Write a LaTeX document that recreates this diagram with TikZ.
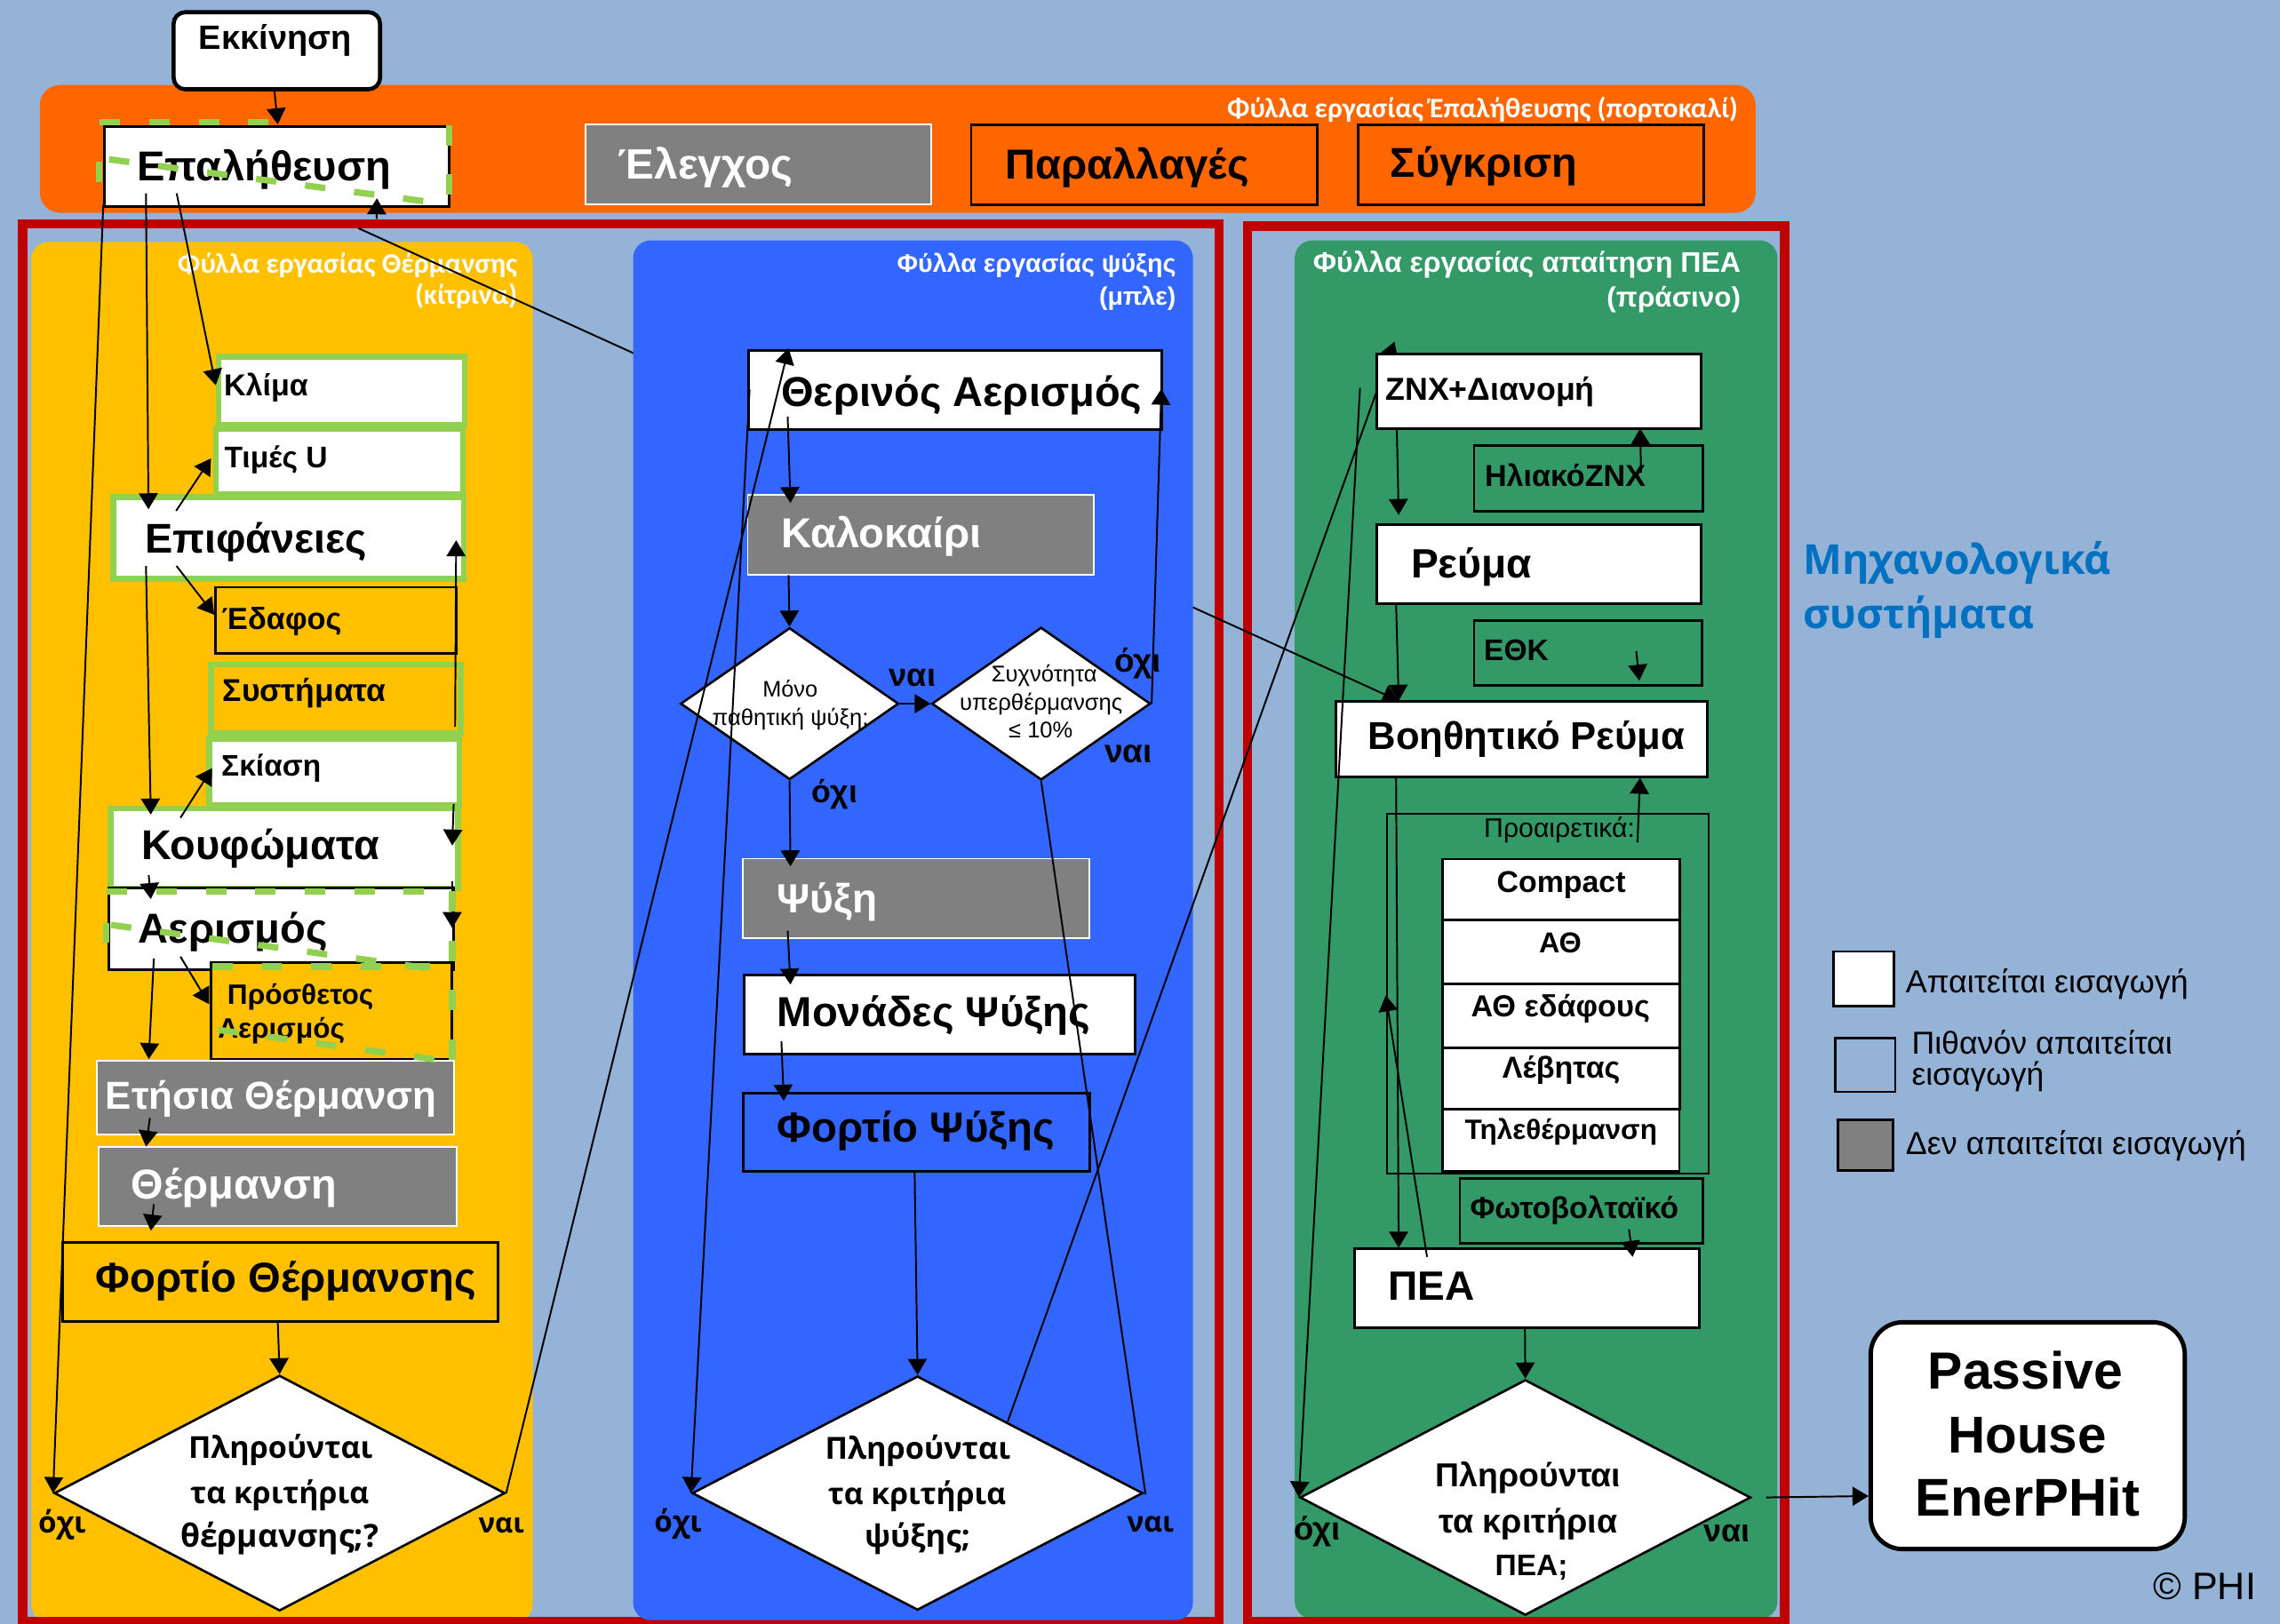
\documentclass[tikz,border=0pt]{standalone}
\usepackage{graphicx}
\usepackage{fontspec}
\setmainfont{Liberation Sans}
\newfontfamily\carl{Carlito}
\newfontfamily\dvs{Open Sans}
\newfontfamily\osans{Open Sans}
\usetikzlibrary{shapes.geometric,arrows.meta,calc}
\definecolor{bgc}{HTML}{95B3D7}
\definecolor{orc}{HTML}{FF6600}
\definecolor{yec}{HTML}{FFC000}
\definecolor{blc}{HTML}{3366FF}
\definecolor{grc}{HTML}{339966}
\definecolor{rdc}{HTML}{C00000}
\definecolor{gyc}{HTML}{808080}
\definecolor{lgc}{HTML}{92D050}
\definecolor{tbc}{HTML}{0070C0}
\newcommand\rt[2]{\resizebox{#1pt}{!}{#2}}
\newcommand\mybox[6]{\node[#6, anchor=north west, inner sep=0pt, minimum width={(#4-#2)*0.5pt}, minimum height={(#5-#3)*0.5pt}] (#1) at (#2,#3) {};}
\tikzset{
 cn/.style={line width=0.6pt, -{Triangle[length=5.5pt,width=6.5pt]}},
 pl/.style={line width=0.6pt},
 wb/.style={draw=black, fill=white, line width=0.9pt},
 gyb/.style={draw=white, fill=gyc, line width=0.6pt},
 yb/.style={draw=black, fill=yec, line width=0.9pt},
 ob/.style={draw=black, fill=orc, line width=0.9pt},
 grb/.style={draw=black, fill=grc, line width=0.8pt},
 blb/.style={draw=black, fill=blc, line width=0.9pt},
 gw/.style={draw=lgc, fill=white, line width=2pt},
 gy/.style={draw=lgc, fill=yec, line width=2pt},
 dsh/.style={draw=lgc, line width=2.2pt, dash pattern=on 7pt off 10pt},
 redfr/.style={draw=rdc, line width=3.2pt},
 lb/.style={inner sep=0pt, anchor=base west},
 lbc/.style={inner sep=0pt, anchor=base},
 lbe/.style={inner sep=0pt, anchor=base east},
 dia/.style={diamond, draw=black, fill=white, line width=0.8pt, inner sep=0pt},
}
\begin{document}
\begin{tikzpicture}[x=0.5pt,y=-0.5pt]
\useasboundingbox (0,0) rectangle (1568,1117);
\fill[bgc] (0,0) rectangle (1568,1117);
% panels
\mybox{orng}{27}{58}{1207}{146}{fill=orc, rounded corners=7pt}
\mybox{ycol}{21}{166}{366}{1115}{fill=yec, rounded corners=6pt}
\mybox{gcol}{890}{165}{1222}{1113}{fill=grc, rounded corners=6pt}
\node[lbe, text=white] (hor) at (1195.6,81) {\rt{175.6}{\carl\bfseries Φύλλα εργασίας Έπαλήθευσης (πορτοκαλί)}};
\node[lbe, text=white] (hy1) at (356.2,187.7) {\rt{116.8}{\carl\bfseries Φύλλα εργασίας Θέρμανσης}};
\node[lbe, text=white] (hy2) at (356.2,209.5) {\rt{35.2}{\carl\bfseries (κίτρινα)}};
\node[lbe, text=white] (hg1) at (1197.5,187) {\rt{147}{\bfseries Φύλλα εργασίας απαίτηση ΠΕΑ}};
\node[lbe, text=white] (hg2) at (1197.5,211) {\rt{46}{\bfseries (πράσινο)}};
% red frames
\draw[redfr] (15.5,154) rectangle (838.3,1115.5);
\draw[redfr] (858,155.4) rectangle (1227.3,1115.5);
% long line under blue panel
\coordinate (g5s) at (246.5,157);
\coordinate (g5e) at (961.9,482);
\draw[cn] (g5s) -- (g5e);
\mybox{bcol}{435}{165}{820}{1114}{fill=blc, rounded corners=6pt}
\node[lbe, text=white] (hb1) at (809.1,187) {\rt{95.9}{\bfseries Φύλλα εργασίας ψύξης}};
\node[lbe, text=white] (hb2) at (809.1,210) {\rt{26.4}{\bfseries (μπλε)}};
% line hidden under ZNX box
\coordinate (b11s) at (693.1,977.6);
\coordinate (b11e) at (959,235);
\draw[cn] (b11s) -- (b11e);
% ---------- boxes ----------
\mybox{start}{118}{7}{260}{60}{draw=black, fill=white, line width=1.4pt, rounded corners=4pt}
\mybox{ver}{71}{86}{308}{141}{wb}
\mybox{ctl}{402}{85}{640}{140}{gyb}
\mybox{var}{667}{85}{905}{140}{ob}
\mybox{cmp}{933}{85}{1171}{140}{ob}
% yellow column
\mybox{clim}{148.4}{243.3}{317.5}{290.2}{gw}
\mybox{uval}{146.5}{293}{316.5}{338}{gw}
\mybox{surf}{76}{340}{317}{396}{gw}
\mybox{grnd}{147}{403}{313}{448.5}{yb}
\mybox{syst}{143}{455}{315}{502}{gy}
\mybox{shad}{142}{506}{314}{552}{gw}
\mybox{wind}{74}{554}{313}{609}{gw}
\mybox{vent}{74}{610}{311}{666}{wb}
\mybox{addv}{144}{661}{309.6}{727.5}{yb}
\mybox{anh}{66}{729}{311.5}{780}{gyb}
\mybox{heat}{67}{788}{313.7}{842.7}{gyb}
\mybox{hld}{42.3}{853.6}{341.5}{908}{yb}
\node[dia, minimum width=155pt, minimum height=81pt] (dy) at (192.3,1027) {};
% blue column
\mybox{sven}{514}{240}{798}{294.6}{wb}
\mybox{summ}{513.6}{339.6}{751.8}{394.8}{gyb}
\node[dia, minimum width=75pt, minimum height=52.2pt] (d1) at (543,484) {};
\node[dia, minimum width=75.2pt, minimum height=52.5pt] (d2) at (716,484) {};
\mybox{cool}{510.4}{590}{748.8}{644.7}{gyb}
\mybox{cunit}{511}{669.6}{780}{724.3}{wb}
\mybox{cld}{510.4}{751}{748.8}{805}{blb}
\node[dia, minimum width=155pt, minimum height=80.5pt] (d3) at (631,1027) {};
% green column
\mybox{dhw}{946}{242.7}{1169}{294.2}{wb}
\mybox{sol}{1013}{305.6}{1170.4}{351}{grb}
\mybox{elec}{946}{360}{1169}{414.5}{wb}
\mybox{ethk}{1013}{426}{1169.7}{470.8}{grb}
\mybox{aux}{917.6}{481.7}{1173.5}{533.6}{wb}
\mybox{opt}{953}{559.2}{1174.2}{806.3}{draw=black, line width=0.7pt}
\mybox{s1}{991}{590}{1154.5}{632}{wb}
\mybox{s2}{991}{632}{1154.5}{676}{wb}
\mybox{s3}{991}{676}{1154.5}{720}{wb}
\mybox{s4}{991}{720}{1154.5}{762}{wb}
\mybox{s5}{991}{762}{1154}{805}{wb}
\mybox{pv}{1003.2}{809.6}{1170.4}{854.4}{grb}
\mybox{pea}{930.7}{858.2}{1168}{912.2}{wb}
\node[dia, minimum width=155pt, minimum height=81pt] (dg) at (1049,1030) {};
\mybox{ph}{1285}{908}{1501}{1064}{draw=black, fill=white, line width=1.5pt, rounded corners=11pt}
\coordinate (phin) at (1285,1029);
% legend
\mybox{lg1}{1260.3}{653.7}{1301.5}{691.2}{draw=black, fill=white, line width=0.8pt}
\mybox{lg2}{1261.4}{713.4}{1302.6}{750.3}{draw=black, fill=bgc, line width=0.8pt}
\mybox{lg3}{1263}{769.6}{1301}{804.2}{draw=black, fill=gyc, line width=0.8pt}
% ---------- texts ----------
\node[lb] (tstart) at (136.4,34) {\rt{52.5}{\bfseries Εκκίνηση}};
\node[lb] (tver) at (93.8,124.4) {\rt{87.3}{\bfseries Επαλήθευση}};
\node[lb, text=white] (tctl) at (424.8,123) {\rt{60}{\bfseries Έλεγχος}};
\node[lb] (tvar) at (690.9,123) {\rt{83.8}{\bfseries Παραλλαγές}};
\node[lb] (tcmp) at (955.9,122) {\rt{64.3}{\bfseries Σύγκριση}};
\node[lb] (tclim) at (153.6,272.4) {\rt{29}{\bfseries Κλίμα}};
\node[lb] (tuval) at (153.9,321.9) {\rt{35.5}{\bfseries Τιμές U}};
\node[lb] (tsurf) at (99.3,380.2) {\rt{76.4}{\bfseries Επιφάνειες}};
\node[lb] (tgrnd) at (152.2,432.9) {\rt{41.2}{\bfseries Έδαφος}};
\node[lb] (tsyst) at (152.8,482.6) {\rt{56.2}{\bfseries Συστήματα}};
\node[lb] (tshad) at (151.9,533.9) {\rt{34.2}{\bfseries Σκίαση}};
\node[lb] (twind) at (96.8,591.1) {\rt{81.8}{\bfseries Κουφώματα}};
\node[lb] (tvent) at (94.9,648.4) {\rt{65}{\bfseries Αερισμός}};
\node[lb] (taddv1) at (156,690.7) {\rt{50.2}{\bfseries Πρόσθετος}};
\node[lb] (taddv2) at (149.5,713.9) {\rt{43.6}{\bfseries Αερισμός}};
\node[lb, text=white] (tanh) at (72.3,762.7) {\rt{113.9}{\bfseries Ετήσια Θέρμανση}};
\node[lb, text=white] (theat) at (90,824.5) {\rt{70.6}{\bfseries Θέρμανση}};
\node[lb] (thld) at (65.5,888.9) {\rt{130.9}{\bfseries Φορτίο Θέρμανσης}};
\node[lbc] (tdy1) at (193,1003.3) {\rt{63.4}{\dvs\bfseries Πληρούνται}};
\node[lbc] (tdy2) at (192.3,1034.1) {\rt{61.4}{\dvs\bfseries τα κριτήρια}};
\node[lbc] (tdy3) at (192.3,1064.4) {\rt{68.2}{\dvs\bfseries θέρμανσης;?}};
\node[lb] (tdyn) at (25.9,1054.3) {\rt{16.4}{\dvs\bfseries όχι}};
\node[lb] (tdyy) at (328.7,1054.3) {\rt{15.7}{\dvs\bfseries ναι}};
\node[lb] (tsven) at (536.8,279.6) {\rt{124.1}{\bfseries Θερινός Αερισμός}};
\node[lb, text=white] (tsumm) at (536.8,376.5) {\rt{68.9}{\bfseries Καλοκαίρι}};
\node[lbc] (td1a) at (543.4,479.3) {\rt{18.9}{Μόνο}};
\node[lbc] (td1b) at (543.6,499.2) {\rt{53.7}{παθητική ψύξη;}};
\node[lbc] (td2a) at (718.2,469.2) {\rt{36.3}{Συχνότητα}};
\node[lbc] (td2b) at (716,488.3) {\rt{56}{υπερθέρμανσης}};
\node[lbc] (td2c) at (715.7,507.4) {\rt{22}{≤ 10\%}};
\node[lb] (td1y) at (611,472) {\rt{16.1}{\bfseries ναι}};
\node[lb] (td2n) at (766,462.4) {\rt{16.1}{\bfseries όχι}};
\node[lb] (td2y) at (759.2,524.3) {\rt{16.4}{\bfseries ναι}};
\node[lb] (td1n) at (558.1,552.4) {\rt{15.6}{\bfseries όχι}};
\node[lb, text=white] (tcool) at (534.1,628) {\rt{34.4}{\bfseries Ψύξη}};
\node[lb] (tcunit) at (534.1,705.9) {\rt{107.7}{\bfseries Μονάδες Ψύξης}};
\node[lb] (tcld) at (534.1,785.5) {\rt{95.5}{\bfseries Φορτίο Ψύξης}};
\node[lbc] (td31) at (631.2,1003.6) {\rt{63.8}{\dvs\bfseries Πληρούνται}};
\node[lbc] (td32) at (630.6,1034.7) {\rt{61.2}{\dvs\bfseries τα κριτήρια}};
\node[lbc] (td33) at (630.9,1064) {\rt{36.3}{\dvs\bfseries ψύξης;}};
\node[lb] (td3n) at (449.5,1053.8) {\rt{16.4}{\dvs\bfseries όχι}};
\node[lb] (td3y) at (774.7,1053.8) {\rt{16.1}{\dvs\bfseries ναι}};
\node[lb] (tdhw) at (952.5,275) {\rt{71.9}{\bfseries ZNX+Διανομή}};
\node[lb] (tsol) at (1020.7,334.7) {\rt{55.3}{\bfseries ΗλιακόZNX}};
\node[lb] (telec) at (970,397.3) {\rt{41.6}{\bfseries Ρεύμα}};
\node[lb] (tethk) at (1020.2,454.3) {\rt{22.2}{\bfseries ΕΘΚ}};
\node[lb] (taux) at (940.4,515.6) {\rt{109}{\bfseries Βοηθητικό Ρεύμα}};
\node[lb] (topt) at (1020.2,575.7) {\rt{51.9}{Προαιρετικά:}};
\node[lb] (ts1) at (1029,613.7) {\rt{44.3}{\bfseries Compact}};
\node[lb] (ts2) at (1058,655.5) {\rt{14.6}{\bfseries ΑΘ}};
\node[lb] (ts3) at (1011.3,699.1) {\rt{61.5}{\bfseries ΑΘ εδάφους}};
\node[lb] (ts4) at (1032.8,741.6) {\rt{40.5}{\bfseries Λέβητας}};
\node[lb] (ts5) at (1007,783.5) {\rt{66.1}{\bfseries Τηλεθέρμανση}};
\node[lb] (tpv) at (1010.6,838) {\rt{71.7}{\bfseries Φωτοβολταϊκό}};
\node[lb] (tpea) at (954.3,894.4) {\rt{29.7}{\bfseries ΠΕΑ}};
\node[lbc] (tdg1) at (1051,1022.5) {\rt{63.6}{\bfseries Πληρούνται}};
\node[lbc] (tdg2) at (1051,1054.1) {\rt{61.4}{\bfseries τα κριτήρια}};
\node[lbc] (tdg3) at (1053.2,1083.6) {\rt{25}{\bfseries ΠΕΑ;}};
\node[lb] (tdgn) at (889.6,1059.2) {\rt{15.9}{\bfseries όχι}};
\node[lb] (tdgy) at (1171.4,1060.2) {\rt{15.9}{\bfseries ναι}};
\node[lbc] (tph1) at (1393,955.3) {\rt{67}{\bfseries Passive}};
\node[lbc] (tph2) at (1394.2,999.1) {\rt{54.5}{\bfseries House}};
\node[lbc] (tph3) at (1394.2,1042.9) {\rt{77.2}{\bfseries EnerPHit}};
\node[lb, text=tbc] (tmech1) at (1239.7,394.8) {\rt{105.9}{\osans\bfseries Μηχανολογικά}};
\node[lb, text=tbc] (tmech2) at (1239.7,432.3) {\rt{79.5}{\osans\bfseries συστήματα}};
\node[lb] (tlg1) at (1310.3,683.1) {\rt{97.1}{Απαιτείται εισαγωγή}};
\node[lb] (tlg2a) at (1314.3,724.9) {\rt{89.6}{Πιθανόν απαιτείται}};
\node[lb] (tlg2b) at (1314.3,746.6) {\rt{45.5}{εισαγωγή}};
\node[lb] (tlg3) at (1310.3,794.1) {\rt{117}{Δεν απαιτείται εισαγωγή}};
\node[lb] (tcopy) at (1480.5,1100) {\rt{35.3}{© PHI}};
% ---------- connectors ----------
\draw[cn] (188.5,60) coordinate (a1s) -- (191,85.5) coordinate (a1e);
\draw[cn] (100.4,133) coordinate (a2s) -- (102.1,350.3) coordinate (a2e);
\draw[cn] (121.5,133) coordinate (a3s) -- (148.4,265) coordinate (a3e);
\draw[cn] (71,141) coordinate (a4s) -- (dy.west);
\draw[cn] (121.1,351.4) coordinate (a5s) -- (145.1,315.3) coordinate (a5e);
\draw[cn] (100.4,389.3) coordinate (a6s) -- (103.7,560.3) coordinate (a6e);
\draw[cn] (121.4,389.3) coordinate (a7s) -- (147.3,422.8) coordinate (a7e);
\draw[cn] (124.1,562.5) coordinate (a8s) -- (145.9,528.4) coordinate (a8e);
\draw[cn] (102.3,602) coordinate (a9s) -- (103.7,618.4) coordinate (a9e);
\draw[cn] (313,500) coordinate (a10s) -- (313.7,371.6) coordinate (a10e);
\draw[cn] (312,553) coordinate (a11s) -- (311,581.6) coordinate (a11e);
\draw[cn] (311,606) coordinate (a12s) -- (311,638.3) coordinate (a12e);
\draw[cn] (105.8,659.3) coordinate (a13s) -- (102.3,728.5) coordinate (a13e);
\draw[cn] (124.1,658) coordinate (a14s) -- (143.8,690.7) coordinate (a14e);
\draw[cn] (103.1,769) coordinate (a15s) -- (100.4,788.7) coordinate (a15e);
\draw[cn] (105.8,828.3) coordinate (a16s) -- (103.7,846.5) coordinate (a16e);
\draw[cn] (191,908.4) coordinate (a17s) -- (dy.north);
\draw[cn] (dy.east) -- (542.3,239.5) coordinate (a18e);
\draw[cn] (541.7,286.5) coordinate (b1s) -- (543.6,346) coordinate (b1e);
\draw[cn] (542.3,395.6) coordinate (b2s) -- (d1.north);
\draw[cn] (d1.east) -- (d2.west);
\draw[cn] (d2.east) -- (798.7,267.4) coordinate (b4e);
\draw[cn] (d1.south) -- (543.6,595.9) coordinate (b5e);
\draw[cn] (541.7,640.2) coordinate (b6s) -- (543.6,677.2) coordinate (b6e);
\draw[cn] (537.4,716.3) coordinate (b7s) -- (539,757.1) coordinate (b7e);
\draw[cn] (629,805.3) coordinate (b8s) -- (d3.north);
\draw[pl] (d2.south) -- (787.8,1027.8) coordinate (b9e);
\draw[cn] (515.5,268) coordinate (b10s) -- (d3.west);
\draw[cn] (960.6,294.7) coordinate (g1s) -- (961.9,354.2) coordinate (g1e);
\draw[cn] (1128.6,325.1) coordinate (g2s) -- (1127.9,294.7) coordinate (g2e);
\draw[cn] (960.1,415) coordinate (g3s) -- (961.9,482) coordinate (g3e);
\draw[cn] (1125.3,448) coordinate (g4s) -- (1127.4,468.2) coordinate (g4e);
\draw[cn] (259,150.6) coordinate (g6s) -- (259.2,136.4) coordinate (g6e);
\draw[cn] (1126.1,579.5) coordinate (g7s) -- (1127.9,535) coordinate (g7e);
\draw[cn] (960.1,534) coordinate (g8s) -- (961.9,858.2) coordinate (g8e);
\draw[cn] (981.4,864.5) coordinate (g9s) -- (953,684.6) coordinate (g9e);
\draw[cn] (1120.3,845.5) coordinate (g10s) -- (1122.8,864.5) coordinate (g10e);
\draw[cn] (935.3,266.8) coordinate (g11s) -- (dg.west);
\draw[cn] (1048.7,913.6) coordinate (g12s) -- (dg.north);
\draw[cn] (1214.6,1030) coordinate (g13s) -- (phin);
% ---------- green dashed overlays ----------
\draw[dsh] (68.7,84) -- (190,84);
\draw[dsh] (308.8,86) -- (308.8,141);
\draw[dsh] (68,111) -- (68,126);
\draw[dsh] (75,109.6) -- (296,139);
\draw[dsh] (73.6,613) -- (300,613);
\draw[dsh] (73,634.8) -- (73,648.5);
\draw[dsh] (76.4,636.2) -- (296,666.2);
\draw[dsh] (311,613) -- (311,729);
\draw[dsh] (146,664.8) -- (308,664.8);
\draw[dsh] (150,708.4) -- (301.4,729);
\end{tikzpicture}
\end{document}
